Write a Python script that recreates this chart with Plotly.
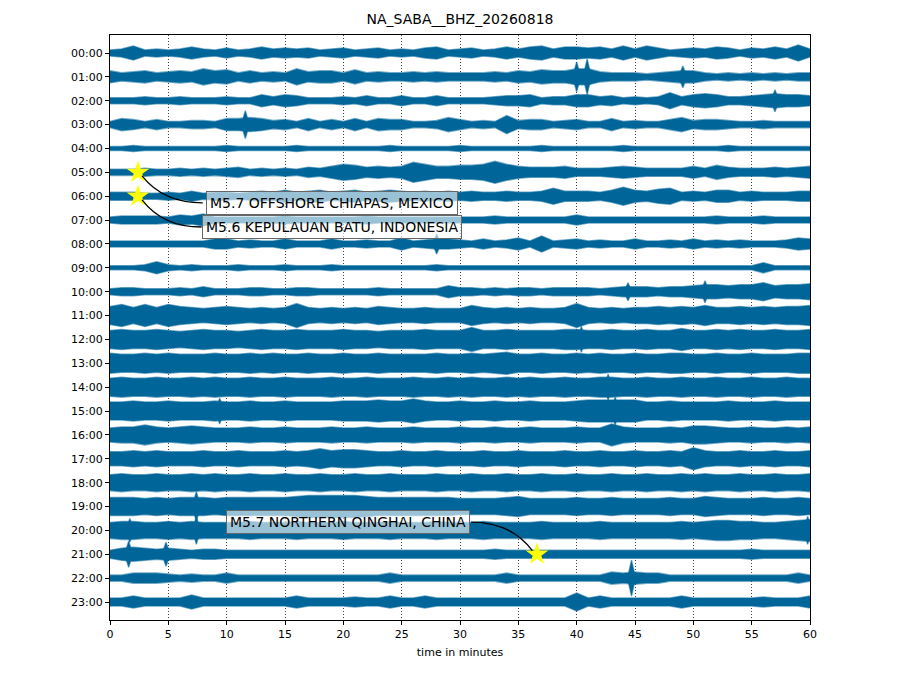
import plotly.graph_objects as go

# helicorder NA_SABA BHZ, one row per hour, envelope amplitude read per minute
# (half peak-to-peak, counts; 24 counts ~ one row spacing)
minutes = list(range(61))

amp_00 = [3, 4, 7, 3, 4, 3, 4, 6, 4, 3, 5, 3, 4, 6, 4, 5, 4, 5, 3, 4, 5, 3, 4, 5, 3, 4, 3, 5, 6, 3, 4,
          5, 3, 4, 6, 4, 6, 7, 4, 6, 6, 5, 6, 4, 7, 4, 7, 5, 3, 4, 5, 4, 6, 5, 3, 5, 4, 6, 4, 8, 4]
amp_01 = [6, 4, 5, 6, 4, 5, 6, 5, 8, 6, 7, 4, 6, 4, 5, 4, 8, 5, 6, 6, 4, 7, 4, 5, 4, 4, 5, 4, 5, 4, 4,
          4, 4, 5, 4, 6, 5, 7, 6, 6, 8, 8, 5, 4, 4, 4, 3, 4, 5, 6, 6, 4, 3, 4, 3, 4, 3, 4, 3, 4, 4]
amp_02 = [3, 3, 3, 4, 3, 3, 4, 3, 3, 3, 4, 3, 3, 6, 4, 6, 5, 3, 3, 3, 4, 3, 5, 3, 3, 5, 3, 3, 5, 3, 3,
          3, 3, 4, 5, 5, 6, 3, 4, 4, 6, 6, 4, 5, 3, 4, 3, 4, 8, 4, 6, 7, 6, 4, 4, 5, 6, 7, 6, 6, 5]
amp_03 = [3, 6, 5, 3, 5, 3, 3, 4, 4, 3, 6, 6, 7, 6, 4, 5, 3, 6, 3, 5, 3, 6, 3, 6, 5, 5, 3, 3, 4, 7, 5,
          3, 4, 3, 9, 4, 5, 5, 3, 4, 5, 3, 3, 6, 3, 4, 3, 3, 5, 7, 4, 5, 5, 4, 3, 3, 4, 3, 3, 3, 3]
amp_04 = [2, 2, 3, 2, 2, 2, 2, 2, 2, 2, 3, 2, 2, 2, 2, 2, 3, 2, 2, 2, 2, 2, 2, 2, 3, 2, 2, 2, 2, 2, 3,
          2, 2, 2, 2, 2, 2, 3, 2, 2, 2, 2, 2, 2, 3, 2, 2, 2, 2, 2, 2, 2, 2, 3, 2, 2, 2, 2, 2, 2, 2]
amp_05 = [3, 3, 3, 4, 3, 3, 4, 3, 4, 3, 4, 5, 3, 4, 3, 4, 3, 5, 4, 6, 8, 7, 5, 6, 5, 6, 10, 8, 6, 6, 7,
          7, 8, 11, 8, 6, 5, 5, 5, 6, 4, 4, 4, 5, 6, 5, 4, 4, 4, 4, 6, 4, 7, 5, 4, 4, 4, 5, 4, 5, 6]
amp_06 = [4, 4, 4, 3, 3, 4, 3, 5, 3, 4, 4, 3, 4, 5, 4, 6, 4, 5, 6, 4, 5, 6, 4, 5, 6, 5, 4, 5, 4, 5, 4,
          5, 4, 4, 5, 4, 4, 5, 8, 5, 5, 5, 4, 6, 9, 6, 5, 7, 8, 4, 5, 4, 6, 6, 4, 5, 4, 4, 4, 5, 5]
amp_07 = [3, 4, 4, 4, 4, 3, 5, 4, 6, 3, 3, 3, 3, 3, 3, 4, 3, 3, 3, 3, 3, 3, 4, 3, 3, 3, 3, 3, 3, 3, 3,
          3, 3, 4, 3, 3, 3, 3, 3, 3, 5, 3, 3, 3, 3, 3, 3, 3, 3, 3, 3, 3, 4, 3, 3, 3, 4, 3, 3, 3, 3]
amp_08 = [3, 3, 3, 3, 3, 3, 3, 3, 3, 5, 5, 3, 4, 3, 3, 5, 3, 3, 3, 5, 3, 3, 4, 3, 3, 6, 3, 4, 5, 5, 4,
          3, 5, 3, 4, 6, 3, 8, 3, 4, 5, 3, 4, 3, 3, 5, 3, 3, 4, 3, 5, 3, 4, 3, 4, 3, 3, 3, 4, 6, 5]
amp_09 = [2, 2, 2, 3, 6, 3, 2, 3, 2, 2, 2, 3, 2, 2, 2, 3, 2, 2, 2, 3, 2, 2, 2, 2, 2, 2, 2, 2, 3, 2, 2,
          2, 2, 2, 2, 2, 2, 2, 2, 2, 2, 2, 2, 2, 2, 2, 2, 2, 2, 2, 2, 2, 2, 2, 2, 2, 5, 2, 2, 2, 2]
amp_10 = [3, 4, 4, 3, 3, 3, 4, 3, 5, 3, 3, 3, 4, 4, 3, 3, 4, 4, 3, 3, 3, 3, 3, 4, 3, 3, 3, 3, 3, 6, 4,
          4, 3, 4, 3, 4, 4, 3, 4, 4, 4, 4, 3, 4, 5, 5, 5, 4, 5, 5, 6, 7, 7, 6, 7, 7, 9, 6, 7, 7, 8]
amp_11 = [9, 11, 8, 11, 8, 11, 9, 8, 7, 8, 9, 8, 7, 8, 7, 8, 12, 8, 7, 8, 7, 8, 7, 9, 8, 7, 7, 8, 7, 7, 7,
          10, 8, 7, 8, 7, 8, 7, 7, 8, 12, 8, 7, 8, 7, 8, 8, 9, 8, 9, 8, 10, 8, 8, 9, 8, 9, 8, 9, 9, 10]
amp_12 = [9, 10, 9, 9, 10, 9, 8, 9, 10, 9, 9, 8, 9, 10, 9, 9, 10, 9, 9, 9, 10, 9, 9, 8, 9, 9, 9, 10, 9, 9, 9,
          12, 9, 9, 10, 9, 9, 9, 9, 10, 10, 9, 9, 10, 9, 9, 10, 9, 9, 11, 9, 9, 10, 9, 10, 9, 9, 10, 9, 9, 10]
amp_13 = [10, 9, 9, 10, 9, 10, 9, 9, 9, 10, 9, 9, 10, 9, 10, 9, 9, 10, 9, 9, 10, 9, 9, 10, 9, 9, 9, 9, 10, 9, 9,
          10, 9, 10, 11, 9, 9, 10, 9, 9, 10, 9, 10, 9, 9, 10, 9, 9, 10, 10, 9, 9, 10, 9, 9, 10, 9, 9, 9, 10, 10]
amp_14 = [9, 10, 9, 9, 10, 9, 9, 10, 9, 10, 9, 9, 10, 9, 9, 10, 9, 9, 9, 10, 9, 9, 10, 9, 9, 9, 10, 9, 9, 10, 9,
          10, 9, 9, 10, 9, 10, 9, 9, 10, 9, 9, 10, 10, 9, 9, 10, 9, 9, 10, 9, 9, 10, 9, 9, 10, 9, 9, 10, 9, 9]
amp_15 = [9, 9, 10, 9, 9, 10, 9, 9, 9, 10, 9, 9, 10, 9, 9, 10, 9, 9, 9, 9, 10, 10, 10, 11, 10, 10, 12, 10, 9, 9, 10,
          9, 9, 10, 9, 9, 10, 9, 9, 9, 10, 11, 11, 11, 11, 11, 9, 9, 10, 9, 9, 9, 9, 10, 9, 9, 9, 10, 9, 9, 9]
amp_16 = [7, 8, 8, 10, 8, 7, 8, 9, 8, 7, 7, 7, 8, 7, 7, 8, 7, 7, 7, 8, 7, 7, 8, 7, 7, 7, 8, 7, 7, 7, 8,
          7, 7, 8, 7, 7, 8, 7, 7, 7, 8, 7, 7, 11, 8, 7, 7, 7, 8, 7, 9, 9, 8, 7, 7, 8, 7, 7, 8, 7, 8]
amp_17 = [7, 7, 8, 7, 8, 7, 7, 7, 8, 7, 7, 8, 7, 7, 7, 8, 7, 8, 10, 8, 9, 9, 8, 7, 7, 8, 7, 7, 8, 7, 7,
          7, 8, 7, 7, 8, 7, 7, 7, 8, 7, 7, 8, 7, 7, 8, 7, 7, 8, 7, 11, 8, 7, 7, 8, 7, 7, 8, 7, 7, 8]
amp_18 = [8, 9, 8, 8, 9, 8, 8, 9, 8, 9, 8, 8, 9, 8, 8, 9, 8, 8, 9, 8, 8, 9, 8, 8, 9, 8, 8, 8, 9, 8, 8,
          9, 8, 8, 9, 8, 8, 9, 8, 8, 9, 8, 8, 9, 8, 8, 9, 8, 8, 9, 8, 9, 8, 8, 9, 8, 8, 9, 8, 8, 9]
amp_19 = [9, 9, 9, 8, 9, 8, 9, 9, 9, 8, 9, 9, 9, 9, 9, 9, 10, 11, 11, 11, 11, 11, 10, 9, 9, 9, 9, 9, 9, 9, 8,
          8, 8, 8, 9, 10, 8, 8, 8, 8, 9, 8, 8, 9, 8, 8, 8, 8, 9, 8, 8, 10, 9, 8, 8, 8, 9, 8, 8, 9, 8]
amp_20 = [8, 9, 9, 8, 8, 9, 8, 9, 8, 8, 8, 8, 9, 8, 8, 8, 9, 8, 8, 8, 9, 8, 8, 8, 9, 8, 8, 8, 9, 8, 8,
          8, 9, 8, 8, 8, 8, 9, 8, 8, 8, 8, 9, 8, 8, 8, 8, 8, 8, 9, 8, 9, 10, 10, 9, 9, 8, 8, 9, 10, 11]
amp_21 = [4, 6, 7, 6, 5, 6, 5, 4, 5, 5, 4, 4, 4, 4, 4, 4, 4, 4, 4, 4, 4, 4, 4, 4, 4, 4, 4, 4, 4, 4, 4,
          4, 4, 5, 4, 4, 4, 4, 4, 4, 4, 4, 4, 4, 4, 4, 4, 4, 4, 4, 4, 4, 4, 4, 4, 5, 4, 4, 4, 4, 4]
amp_22 = [3, 3, 5, 5, 5, 4, 3, 4, 3, 3, 5, 3, 3, 3, 3, 3, 3, 3, 3, 3, 3, 3, 3, 3, 5, 3, 3, 3, 3, 3, 3,
          3, 3, 3, 5, 3, 3, 3, 3, 3, 3, 3, 3, 6, 5, 6, 5, 5, 3, 3, 3, 3, 3, 3, 3, 3, 3, 3, 3, 5, 3]
amp_23 = [4, 4, 6, 4, 4, 4, 4, 7, 4, 4, 4, 4, 4, 4, 4, 4, 6, 4, 4, 4, 4, 5, 4, 4, 6, 4, 4, 6, 4, 4, 4,
          4, 4, 4, 4, 4, 4, 4, 4, 4, 9, 4, 6, 4, 4, 4, 4, 4, 4, 6, 4, 4, 4, 4, 4, 4, 5, 4, 4, 4, 6]

rows = [amp_00, amp_01, amp_02, amp_03, amp_04, amp_05, amp_06, amp_07, amp_08, amp_09, amp_10, amp_11,
        amp_12, amp_13, amp_14, amp_15, amp_16, amp_17, amp_18, amp_19, amp_20, amp_21, amp_22, amp_23]
hour_labels = ["%02d:00" % h for h in range(24)]

# short, sharp arrivals read separately (hour row, minute, half amplitude in counts)
spike_hours = [1, 1, 1, 2, 3, 8, 10, 10, 12, 14, 15, 15, 19, 20, 20, 20, 21, 21, 22]
spike_minutes = [40.0, 40.9, 49.1, 57.0, 11.6, 28.0, 44.4, 51.0, 40.4, 42.7, 9.4, 43.3, 7.4, 1.7, 7.4, 59.8,
                 1.6, 4.8, 44.7]
spike_amps = [15, 18, 11, 11, 14, 10, 9, 11, 13, 13, 13, 14, 15, 12, 14, 14, 13, 12, 18]

# catalogue events shown on the plot
event_names = ["M5.7 OFFSHORE CHIAPAS, MEXICO", "M5.6 KEPULAUAN BATU, INDONESIA", "M5.7 NORTHERN QINGHAI, CHINA"]
event_hours = [5, 6, 21]
event_minutes = [2.4, 2.4, 36.6]

counts_per_row = 24.0
trace_color = "#006699"
spike_halfwidth = 0.35  # minutes

fig = go.Figure()

for h, amp in enumerate(rows):
    upper = [h - a / counts_per_row for a in amp]
    lower = [h + a / counts_per_row for a in amp]
    fig.add_trace(go.Scatter(
        x=minutes + minutes[::-1],
        y=upper + lower[::-1],
        fill="toself",
        fillcolor=trace_color,
        line=dict(color="rgba(0,102,153,0.55)", width=1.6),
        mode="lines",
        hoverinfo="skip",
        showlegend=False,
    ))

# each sharp arrival drawn as a narrow spindle
for h, m, a in zip(spike_hours, spike_minutes, spike_amps):
    d = a / counts_per_row
    fig.add_trace(go.Scatter(
        x=[m - spike_halfwidth, m, m + spike_halfwidth, m, m - spike_halfwidth],
        y=[h, h - d, h, h + d, h],
        fill="toself", fillcolor=trace_color, mode="lines",
        line=dict(color="rgba(0,102,153,0.55)", width=1.4),
        hoverinfo="skip", showlegend=False,
    ))

fig.add_trace(go.Scatter(
    x=event_minutes, y=event_hours, mode="markers",
    marker=dict(symbol="star", size=17, color="yellow", line=dict(width=0)),
    showlegend=False, hoverinfo="skip",
))

# label boxes: (centre x, centre y, side the connector attaches to)
label_pos = [(19.0, 6.28, "left"), (19.0, 7.29, "left"), (20.4, 19.65, "right")]
box_half = [10.85, 10.95, 10.35]

for name, hr, mn, (lx, ly, side), hw in zip(event_names, event_hours, event_minutes, label_pos, box_half):
    fig.add_annotation(
        x=lx, y=ly, text=name, showarrow=False,
        font=dict(family="DejaVu Sans", size=14, color="black"),
        bgcolor="rgba(255,255,255,0.6)", bordercolor="#666666", borderwidth=1, borderpad=3,
    )
    if side == "left":
        x0, y0 = mn + 0.35, hr + 0.15
        x1, y1 = lx - hw - 0.2, ly
        cx, cy = x0 + 0.35 * (x1 - x0), y1
    else:
        x0, y0 = lx + hw + 0.2, ly
        x1, y1 = mn - 0.4, hr - 0.15
        cx, cy = x0 + 0.65 * (x1 - x0), y0
    fig.add_shape(
        type="path", xref="x", yref="y", layer="above",
        path=f"M {x0},{y0} Q {cx},{cy} {x1},{y1}",
        line=dict(color="black", width=1.3),
    )

# page body adds 8px around the figure, so the figure is 8px smaller each way
fig.update_layout(
    width=912, height=682,
    margin=dict(l=102, r=110, t=27, b=70),
    paper_bgcolor="white", plot_bgcolor="white",
    font=dict(family="DejaVu Sans", size=11, color="black"),
    title=dict(text="NA_SABA__BHZ_20260818", x=(102 + 350) / 912, xanchor="center", y=0.984,
               yanchor="middle", yref="container", font=dict(size=14)),
)
fig.update_xaxes(
    range=[0, 60], tickvals=list(range(0, 61, 5)),
    showgrid=True, gridcolor="rgba(0,0,0,0.75)", griddash="1px,2px", gridwidth=0.8,
    showline=True, linecolor="black", linewidth=1, mirror=True,
    ticks="outside", ticklen=4, tickcolor="black", zeroline=False,
    title=dict(text="time in minutes", standoff=8, font=dict(size=11)),
)
fig.update_yaxes(
    range=[23.754, -0.754], tickvals=list(range(24)), ticktext=hour_labels,
    showgrid=False, zeroline=False,
    showline=True, linecolor="black", linewidth=1, mirror=True,
    ticks="outside", ticklen=4, tickcolor="black",
)

fig.write_html("out.html")
